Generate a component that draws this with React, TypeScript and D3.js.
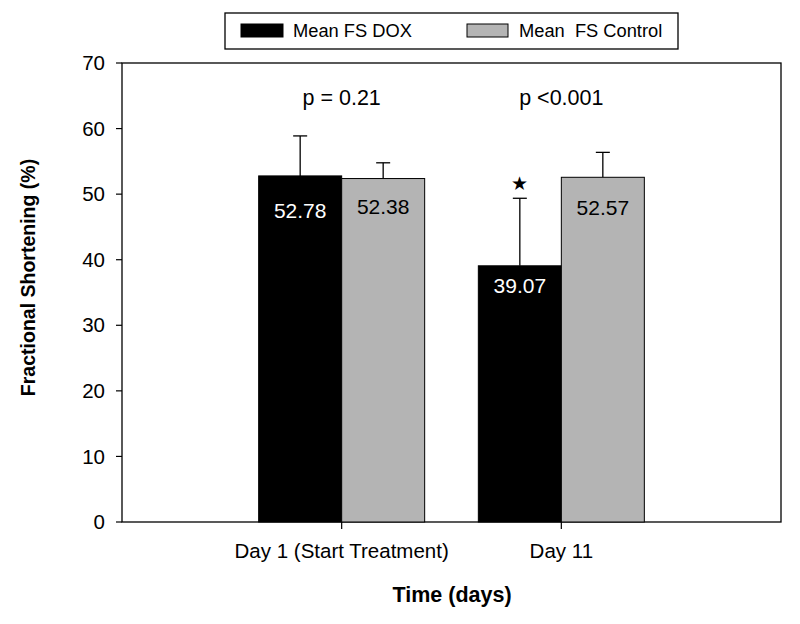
import React from "react";
import * as d3 from "d3";

const categories = ["Day 1 (Start Treatment)", "Day 11"];
const seriesNames = ["Mean FS DOX", "Mean  FS Control"];
const doxMeans = [52.78, 39.07];
const ctrlMeans = [52.38, 52.57];
const doxErr = [6.1, 10.3];
const ctrlErr = [2.4, 3.8];
const pValues = ["p = 0.21", "p <0.001"];
const yTicks = [0, 10, 20, 30, 40, 50, 60, 70];
const colors = ["#000000", "#b4b4b4"];

const W = 800, H = 624;
const left = 122, right = 781, top = 63, bottom = 522;

export default function App() {
  const y = d3.scaleLinear().domain([0, 70]).range([bottom, top]);
  const x = d3.scaleLinear().domain([0, 3]).range([left, right]);
  const barW = 83;
  const font = "'Liberation Sans', Arial, sans-serif";
  const series = [
    { vals: doxMeans, errs: doxErr, color: colors[0], textColor: "#fff" },
    { vals: ctrlMeans, errs: ctrlErr, color: colors[1], textColor: "#000" },
  ];
  const labelOffsets = [[35, 28], [20, 30]];
  return (
    <svg width={W} height={H} style={{ position: "absolute", left: 0, top: 0 }} fontFamily={font}>
      <rect width={W} height={H} fill="#fff" />
      <rect x={left} y={top} width={right - left} height={bottom - top} fill="none" stroke="#000" strokeWidth={1.3} />
      {series.map((s, si) =>
        s.vals.map((v, i) => {
          const cx = x(i + 1);
          const x0 = si === 0 ? cx - barW : cx;
          const xm = x0 + barW / 2;
          const yt = y(v);
          const ye = y(v + s.errs[i]);
          return (
            <g key={`${si}-${i}`}>
              <line x1={xm} x2={xm} y1={yt} y2={ye} stroke="#000" strokeWidth={1.3} />
              <line x1={xm - 7} x2={xm + 7} y1={ye} y2={ye} stroke="#000" strokeWidth={1.3} />
              <rect x={x0} y={yt} width={barW} height={bottom - yt} fill={s.color} stroke="#000" strokeWidth={1} />
              <text x={xm} y={yt + labelOffsets[i][si]} dy="0.35em" textAnchor="middle" fontSize={21} fill={s.textColor}>
                {v.toFixed(2)}
              </text>
            </g>
          );
        })
      )}
      <text x={x(2) - barW / 2} y={y(doxMeans[1] + doxErr[1]) - 15} dy="0.35em" textAnchor="middle" fontSize={19} fill="#000">★</text>
      {pValues.map((p, i) => (
        <text key={p} x={x(i + 1)} y={97} dy="0.35em" textAnchor="middle" fontSize={21.5}>{p}</text>
      ))}
      {yTicks.map((t) => (
        <g key={t}>
          <line x1={left - 6} x2={left} y1={y(t)} y2={y(t)} stroke="#000" strokeWidth={1.2} />
          <text x={left - 17} y={y(t)} dy="0.35em" textAnchor="end" fontSize={20.5}>{t}</text>
        </g>
      ))}
      {categories.map((c, i) => (
        <g key={c}>
          <line x1={x(i + 1)} x2={x(i + 1)} y1={bottom} y2={bottom + 7} stroke="#000" strokeWidth={1.2} />
          <text x={x(i + 1)} y={551} dy="0.35em" textAnchor="middle" fontSize={20.5}>{c}</text>
        </g>
      ))}
      <text x={452} y={594} dy="0.35em" textAnchor="middle" fontSize={21.5} fontWeight="bold">Time (days)</text>
      <text transform={`translate(28,${(top + bottom) / 2 - 15}) rotate(-90)`} dy="0.35em" textAnchor="middle" fontSize={19.5} fontWeight="bold">
        Fractional Shortening (%)
      </text>
      <rect x={225} y={13} width={453} height={36} fill="#fff" stroke="#000" strokeWidth={1.3} />
      <rect x={241} y={24} width={42} height={13} fill={colors[0]} stroke="#000" />
      <text x={293} y={31} dy="0.35em" fontSize={18.3}>{seriesNames[0]}</text>
      <rect x={467} y={24} width={41} height={13} fill={colors[1]} stroke="#000" />
      <text x={519} y={31} dy="0.35em" fontSize={18.3} style={{ whiteSpace: "pre" }}>{seriesNames[1]}</text>
    </svg>
  );
}
